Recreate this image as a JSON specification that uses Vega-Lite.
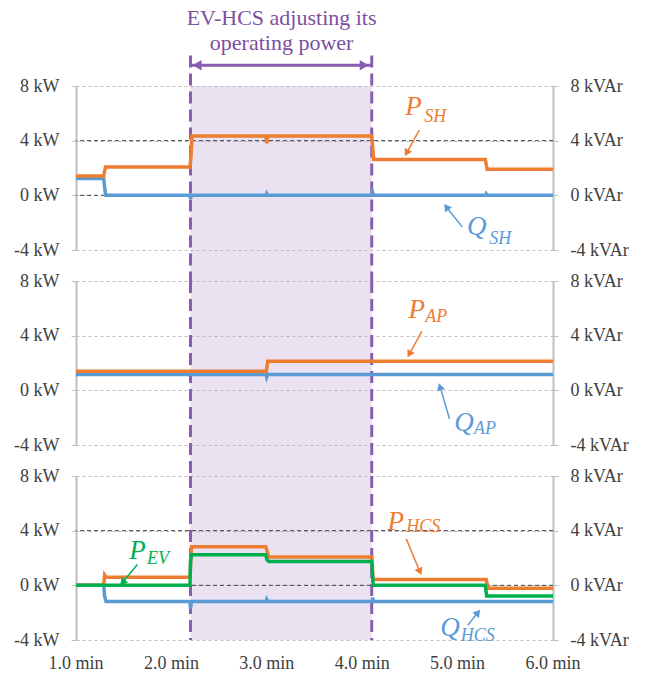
{
  "$schema": "https://vega.github.io/schema/vega-lite/v6.json",
  "padding": {"left": 13, "top": 7, "right": 5, "bottom": 5},
  "background": "white",
  "datasets": {
    "s": [
      {"p":"SH","k":"P","t":1.0,"v":1.41},{"p":"SH","k":"P","t":1.29,"v":1.41},{"p":"SH","k":"P","t":1.3,"v":1.8},{"p":"SH","k":"P","t":1.31,"v":2.07},{"p":"SH","k":"P","t":2.195,"v":2.07},{"p":"SH","k":"P","t":2.205,"v":2.8},{"p":"SH","k":"P","t":2.215,"v":4.35},{"p":"SH","k":"P","t":2.99,"v":4.35},{"p":"SH","k":"P","t":3.0,"v":3.8},{"p":"SH","k":"P","t":3.01,"v":4.35},{"p":"SH","k":"P","t":4.1,"v":4.35},{"p":"SH","k":"P","t":4.12,"v":2.63},{"p":"SH","k":"P","t":5.29,"v":2.63},{"p":"SH","k":"P","t":5.31,"v":1.9},{"p":"SH","k":"P","t":6.0,"v":1.9},
      {"p":"SH","k":"Q","t":1.0,"v":1.24},{"p":"SH","k":"Q","t":1.29,"v":1.24},{"p":"SH","k":"Q","t":1.3,"v":0.6},{"p":"SH","k":"Q","t":1.31,"v":0},{"p":"SH","k":"Q","t":2.195,"v":0},{"p":"SH","k":"Q","t":2.2,"v":-0.25},{"p":"SH","k":"Q","t":2.21,"v":0},{"p":"SH","k":"Q","t":2.995,"v":0},{"p":"SH","k":"Q","t":3.0,"v":0.12},{"p":"SH","k":"Q","t":3.01,"v":0},{"p":"SH","k":"Q","t":4.105,"v":0},{"p":"SH","k":"Q","t":4.11,"v":0.2},{"p":"SH","k":"Q","t":4.12,"v":0},{"p":"SH","k":"Q","t":5.295,"v":0},{"p":"SH","k":"Q","t":5.3,"v":0.1},{"p":"SH","k":"Q","t":5.31,"v":0},{"p":"SH","k":"Q","t":6.0,"v":0},
      {"p":"AP","k":"P","t":1.0,"v":1.4},{"p":"AP","k":"P","t":2.995,"v":1.4},{"p":"AP","k":"P","t":3.01,"v":2.13},{"p":"AP","k":"P","t":6.0,"v":2.13},
      {"p":"AP","k":"Q","t":1.0,"v":1.16},{"p":"AP","k":"Q","t":2.995,"v":1.16},{"p":"AP","k":"Q","t":3.0,"v":0.98},{"p":"AP","k":"Q","t":3.01,"v":1.16},{"p":"AP","k":"Q","t":6.0,"v":1.16},
      {"p":"HCS","k":"P","t":1.0,"v":0},{"p":"HCS","k":"P","t":1.29,"v":0},{"p":"HCS","k":"P","t":1.3,"v":0.75},{"p":"HCS","k":"P","t":1.315,"v":0.59},{"p":"HCS","k":"P","t":2.195,"v":0.59},{"p":"HCS","k":"P","t":2.21,"v":2.82},{"p":"HCS","k":"P","t":2.99,"v":2.82},{"p":"HCS","k":"P","t":3.02,"v":2.08},{"p":"HCS","k":"P","t":4.1,"v":2.08},{"p":"HCS","k":"P","t":4.115,"v":0.42},{"p":"HCS","k":"P","t":5.3,"v":0.42},{"p":"HCS","k":"P","t":5.32,"v":-0.22},{"p":"HCS","k":"P","t":6.0,"v":-0.22},
      {"p":"HCS","k":"Q","t":1.0,"v":0},{"p":"HCS","k":"Q","t":1.29,"v":0},{"p":"HCS","k":"Q","t":1.3,"v":-0.8},{"p":"HCS","k":"Q","t":1.315,"v":-1.19},{"p":"HCS","k":"Q","t":2.195,"v":-1.19},{"p":"HCS","k":"Q","t":2.2,"v":-1.7},{"p":"HCS","k":"Q","t":2.21,"v":-1.19},{"p":"HCS","k":"Q","t":2.995,"v":-1.19},{"p":"HCS","k":"Q","t":3.0,"v":-1.05},{"p":"HCS","k":"Q","t":3.01,"v":-1.19},{"p":"HCS","k":"Q","t":4.105,"v":-1.19},{"p":"HCS","k":"Q","t":4.11,"v":-0.9},{"p":"HCS","k":"Q","t":4.12,"v":-1.19},{"p":"HCS","k":"Q","t":6.0,"v":-1.19},
      {"p":"HCS","k":"EV","t":1.0,"v":0},{"p":"HCS","k":"EV","t":2.195,"v":0},{"p":"HCS","k":"EV","t":2.2,"v":1.7},{"p":"HCS","k":"EV","t":2.21,"v":2.23},{"p":"HCS","k":"EV","t":2.99,"v":2.23},{"p":"HCS","k":"EV","t":3.0,"v":1.9},{"p":"HCS","k":"EV","t":3.02,"v":1.74},{"p":"HCS","k":"EV","t":4.1,"v":1.74},{"p":"HCS","k":"EV","t":4.115,"v":0},{"p":"HCS","k":"EV","t":5.29,"v":0},{"p":"HCS","k":"EV","t":5.305,"v":-0.78},{"p":"HCS","k":"EV","t":6.0,"v":-0.78}
    ],
    "reg": [{"t":2.2,"t2":4.1}],
    "vl": [{"t":2.2},{"t":4.1}],
    "blk": [{"v":0},{"v":4}],
    "xl": [{"t":1,"lab":"1.0 min"},{"t":2,"lab":"2.0 min"},{"t":3,"lab":"3.0 min"},{"t":4,"lab":"4.0 min"},{"t":5,"lab":"5.0 min"},{"t":6,"lab":"6.0 min"}],
    "ann": [
      {"p":"SH","k":"P","lvl":"main","txt":"P","t":4.451,"v":5.85},{"p":"SH","k":"P","lvl":"sub","txt":"SH","t":4.65,"v":5.37},
      {"p":"SH","k":"Q","lvl":"main","txt":"Q","t":5.098,"v":-2.9},{"p":"SH","k":"Q","lvl":"sub","txt":"SH","t":5.332,"v":-3.55},
      {"p":"AP","k":"P","lvl":"main","txt":"P","t":4.486,"v":5.32},{"p":"AP","k":"P","lvl":"sub","txt":"AP","t":4.66,"v":5.03},
      {"p":"AP","k":"Q","lvl":"main","txt":"Q","t":4.965,"v":-2.96},{"p":"AP","k":"Q","lvl":"sub","txt":"AP","t":5.172,"v":-3.2},
      {"p":"HCS","k":"P","lvl":"main","txt":"P","t":4.266,"v":4.08},{"p":"HCS","k":"P","lvl":"sub","txt":"HCS","t":4.462,"v":3.91},
      {"p":"HCS","k":"Q","lvl":"main","txt":"Q","t":4.818,"v":-3.74},{"p":"HCS","k":"Q","lvl":"sub","txt":"HCS","t":5.032,"v":-4.1},
      {"p":"HCS","k":"EV","lvl":"main","txt":"P","t":1.559,"v":1.94},{"p":"HCS","k":"EV","lvl":"sub","txt":"EV","t":1.745,"v":1.59}
    ],
    "arr": [
      {"p":"SH","k":"P","t":4.598,"v":4.77,"t2":4.466,"v2":3.11,"ang":209},
      {"p":"SH","k":"Q","t":5.049,"v":-2.31,"t2":4.882,"v2":-0.85,"ang":322},
      {"p":"AP","k":"P","t":4.626,"v":4.34,"t2":4.494,"v2":2.65,"ang":209},
      {"p":"AP","k":"Q","t":4.916,"v":-2.1,"t2":4.815,"v2":0.27,"ang":344},
      {"p":"HCS","k":"P","t":4.462,"v":3.4,"t2":4.605,"v2":1.0,"ang":157},
      {"p":"HCS","k":"Q","t":5.105,"v":-2.93,"t2":5.213,"v2":-1.99,"ang":39},
      {"p":"HCS","k":"EV","t":1.643,"v":1.52,"t2":1.488,"v2":0.21,"ang":220}
    ],
    "top": [{"t":3.155,"v":12.43,"txt":"EV-HCS adjusting its"},{"t":3.155,"v":10.62,"txt":"operating power"}],
    "harr": [{"t":2.2,"t2":4.1,"v":9.51}],
    "heads": [{"t":2.269,"v":9.51,"dir":"left"},{"t":4.021,"v":9.51,"dir":"right"}]
  },
  "vconcat": [
    {
      "width": 477, "height": 164,
      "resolve": {"scale": {"y": "independent"}},
      "layer": [
        {"data":{"name":"reg"},"mark":{"type":"rect","fill":"#b89bcf","opacity":0.3},
         "encoding":{"x":{"field":"t","type":"quantitative","title":null,"scale":{"domain":[1,6],"nice":false,"zero":false},"axis":null},
          "x2":{"field":"t2"},
          "y":{"datum":8,"type":"quantitative","title":null,"scale":{"domain":[-4,8],"nice":false,"zero":false},"axis":{"orient":"left","values":[-4,0,4,8],"labelExpr":"datum.value + ' kW'","grid":true}},
          "y2":{"datum":-6.27}}},
        {"data":{"name":"blk"},"mark":{"type":"rule","color":"#404040","strokeDash":[4,3],"strokeWidth":1},
         "encoding":{"y":{"field":"v","type":"quantitative","scale":{"domain":[-4,8],"nice":false,"zero":false},"axis":null}}},
        {"data":{"name":"vl"},"mark":{"type":"rule","color":"#8a5db0","strokeDash":[12,6],"strokeWidth":3},
         "encoding":{"x":{"field":"t","type":"quantitative","title":null,"scale":{"domain":[1,6],"nice":false,"zero":false},"axis":null},
          "y":{"datum":10.24,"type":"quantitative","scale":{"domain":[-4,8],"nice":false,"zero":false},"axis":null},"y2":{"datum":-6.27}}},
        {"data":{"name":"s"},"transform":[{"filter":"datum.p=='SH' && datum.k=='Q'"}],"mark":{"type":"line","strokeWidth":3.5},
         "encoding":{"x":{"field":"t","type":"quantitative","title":null,"scale":{"domain":[1,6],"nice":false,"zero":false},"axis":{"values":[1,2,3,4,5,6],"grid":true,"labels":false}},
          "y":{"field":"v","type":"quantitative","title":null,"scale":{"domain":[-4,8],"nice":false,"zero":false},"axis":{"orient":"right","values":[-4,0,4,8],"labelExpr":"datum.value + ' kVAr'","grid":false}},
          "color":{"field":"k","type":"nominal","scale":{"domain":["P","Q","EV"],"range":["#ED7D31","#5B9BD5","#00B050"]},"legend":null}}},
        {"layer":[
          {"data":{"name":"s"},"transform":[{"filter":"datum.p=='SH' && datum.k!='Q'"}],"mark":{"type":"line","strokeWidth":3.5},
           "encoding":{"x":{"field":"t","type":"quantitative","title":null,"scale":{"domain":[1,6],"nice":false,"zero":false},"axis":null},
            "y":{"field":"v","type":"quantitative","title":null,"scale":{"domain":[-4,8],"nice":false,"zero":false},"axis":null},
            "color":{"field":"k","type":"nominal","scale":{"domain":["P","Q","EV"],"range":["#ED7D31","#5B9BD5","#00B050"]},"legend":null}}},
          {"data":{"name":"ann"},"transform":[{"filter":"datum.p=='SH' && datum.lvl=='main'"}],"mark":{"type":"text","font":"Liberation Serif","fontStyle":"italic","fontSize":27,"align":"left","baseline":"alphabetic"},
           "encoding":{"x":{"field":"t","type":"quantitative","title":null,"scale":{"domain":[1,6],"nice":false,"zero":false},"axis":null},
            "y":{"field":"v","type":"quantitative","title":null,"scale":{"domain":[-4,8],"nice":false,"zero":false},"axis":null},
            "text":{"field":"txt"},
            "color":{"field":"k","type":"nominal","scale":{"domain":["P","Q","EV"],"range":["#ED7D31","#5B9BD5","#00B050"]},"legend":null}}},
          {"data":{"name":"ann"},"transform":[{"filter":"datum.p=='SH' && datum.lvl=='sub'"}],"mark":{"type":"text","font":"Liberation Serif","fontStyle":"italic","fontSize":18,"align":"left","baseline":"alphabetic"},
           "encoding":{"x":{"field":"t","type":"quantitative","title":null,"scale":{"domain":[1,6],"nice":false,"zero":false},"axis":null},
            "y":{"field":"v","type":"quantitative","title":null,"scale":{"domain":[-4,8],"nice":false,"zero":false},"axis":null},
            "text":{"field":"txt"},
            "color":{"field":"k","type":"nominal","scale":{"domain":["P","Q","EV"],"range":["#ED7D31","#5B9BD5","#00B050"]},"legend":null}}},
          {"data":{"name":"arr"},"transform":[{"filter":"datum.p=='SH'"}],"mark":{"type":"rule","strokeWidth":1.5},
           "encoding":{"x":{"field":"t","type":"quantitative","title":null,"scale":{"domain":[1,6],"nice":false,"zero":false},"axis":null},
            "y":{"field":"v","type":"quantitative","title":null,"scale":{"domain":[-4,8],"nice":false,"zero":false},"axis":null},
            "x2":{"field":"t2"},"y2":{"field":"v2"},
            "color":{"field":"k","type":"nominal","scale":{"domain":["P","Q","EV"],"range":["#ED7D31","#5B9BD5","#00B050"]},"legend":null}}},
          {"data":{"name":"arr"},"transform":[{"filter":"datum.p=='SH'"}],"mark":{"type":"point","shape":"triangle-up","filled":true,"opacity":1,"size":70},
           "encoding":{"x":{"field":"t2","type":"quantitative","title":null,"scale":{"domain":[1,6],"nice":false,"zero":false},"axis":null},
            "y":{"field":"v2","type":"quantitative","title":null,"scale":{"domain":[-4,8],"nice":false,"zero":false},"axis":null},
            "angle":{"field":"ang","type":"quantitative","scale":null},
            "color":{"field":"k","type":"nominal","scale":{"domain":["P","Q","EV"],"range":["#ED7D31","#5B9BD5","#00B050"]},"legend":null}}},
          {"data":{"name":"top"},"mark":{"type":"text","font":"Liberation Serif","fontSize":22,"align":"center","baseline":"alphabetic","color":"#7d4f9f"},
           "encoding":{"x":{"field":"t","type":"quantitative","title":null,"scale":{"domain":[1,6],"nice":false,"zero":false},"axis":null},
            "y":{"field":"v","type":"quantitative","title":null,"scale":{"domain":[-4,8],"nice":false,"zero":false},"axis":null},
            "text":{"field":"txt"}}},
          {"data":{"name":"harr"},"mark":{"type":"rule","strokeWidth":3,"color":"#8a5db0"},
           "encoding":{"x":{"field":"t","type":"quantitative","title":null,"scale":{"domain":[1,6],"nice":false,"zero":false},"axis":null},
            "x2":{"field":"t2"},
            "y":{"field":"v","type":"quantitative","title":null,"scale":{"domain":[-4,8],"nice":false,"zero":false},"axis":null}}},
          {"data":{"name":"heads"},"mark":{"type":"point","filled":true,"opacity":1,"size":110,"color":"#8a5db0"},
           "encoding":{"x":{"field":"t","type":"quantitative","title":null,"scale":{"domain":[1,6],"nice":false,"zero":false},"axis":null},
            "y":{"field":"v","type":"quantitative","title":null,"scale":{"domain":[-4,8],"nice":false,"zero":false},"axis":null},
            "shape":{"field":"dir","type":"nominal","scale":{"domain":["left","right"],"range":["triangle-left","triangle-right"]},"legend":null}}}
        ]}
      ]
    },
    {
      "width": 477, "height": 164,
      "resolve": {"scale": {"y": "independent"}},
      "layer": [
        {"data":{"name":"reg"},"mark":{"type":"rect","fill":"#b89bcf","opacity":0.3},
         "encoding":{"x":{"field":"t","type":"quantitative","title":null,"scale":{"domain":[1,6],"nice":false,"zero":false},"axis":null},
          "x2":{"field":"t2"},
          "y":{"datum":8,"type":"quantitative","title":null,"scale":{"domain":[-4,8],"nice":false,"zero":false},"axis":{"orient":"left","values":[-4,0,4,8],"labelExpr":"datum.value + ' kW'","grid":true}},
          "y2":{"datum":-6.27}}},
        {"data":{"name":"vl"},"mark":{"type":"rule","color":"#8a5db0","strokeDash":[12,6],"strokeWidth":3},
         "encoding":{"x":{"field":"t","type":"quantitative","title":null,"scale":{"domain":[1,6],"nice":false,"zero":false},"axis":null},
          "y":{"datum":8,"type":"quantitative","scale":{"domain":[-4,8],"nice":false,"zero":false},"axis":null},"y2":{"datum":-6.27}}},
        {"data":{"name":"s"},"transform":[{"filter":"datum.p=='AP' && datum.k=='Q'"}],"mark":{"type":"line","strokeWidth":3.5},
         "encoding":{"x":{"field":"t","type":"quantitative","title":null,"scale":{"domain":[1,6],"nice":false,"zero":false},"axis":{"values":[1,2,3,4,5,6],"grid":true,"labels":false}},
          "y":{"field":"v","type":"quantitative","title":null,"scale":{"domain":[-4,8],"nice":false,"zero":false},"axis":{"orient":"right","values":[-4,0,4,8],"labelExpr":"datum.value + ' kVAr'","grid":false}},
          "color":{"field":"k","type":"nominal","scale":{"domain":["P","Q","EV"],"range":["#ED7D31","#5B9BD5","#00B050"]},"legend":null}}},
        {"layer":[
          {"data":{"name":"s"},"transform":[{"filter":"datum.p=='AP' && datum.k!='Q'"}],"mark":{"type":"line","strokeWidth":3.5},
           "encoding":{"x":{"field":"t","type":"quantitative","title":null,"scale":{"domain":[1,6],"nice":false,"zero":false},"axis":null},
            "y":{"field":"v","type":"quantitative","title":null,"scale":{"domain":[-4,8],"nice":false,"zero":false},"axis":null},
            "color":{"field":"k","type":"nominal","scale":{"domain":["P","Q","EV"],"range":["#ED7D31","#5B9BD5","#00B050"]},"legend":null}}},
          {"data":{"name":"ann"},"transform":[{"filter":"datum.p=='AP' && datum.lvl=='main'"}],"mark":{"type":"text","font":"Liberation Serif","fontStyle":"italic","fontSize":27,"align":"left","baseline":"alphabetic"},
           "encoding":{"x":{"field":"t","type":"quantitative","title":null,"scale":{"domain":[1,6],"nice":false,"zero":false},"axis":null},
            "y":{"field":"v","type":"quantitative","title":null,"scale":{"domain":[-4,8],"nice":false,"zero":false},"axis":null},
            "text":{"field":"txt"},
            "color":{"field":"k","type":"nominal","scale":{"domain":["P","Q","EV"],"range":["#ED7D31","#5B9BD5","#00B050"]},"legend":null}}},
          {"data":{"name":"ann"},"transform":[{"filter":"datum.p=='AP' && datum.lvl=='sub'"}],"mark":{"type":"text","font":"Liberation Serif","fontStyle":"italic","fontSize":18,"align":"left","baseline":"alphabetic"},
           "encoding":{"x":{"field":"t","type":"quantitative","title":null,"scale":{"domain":[1,6],"nice":false,"zero":false},"axis":null},
            "y":{"field":"v","type":"quantitative","title":null,"scale":{"domain":[-4,8],"nice":false,"zero":false},"axis":null},
            "text":{"field":"txt"},
            "color":{"field":"k","type":"nominal","scale":{"domain":["P","Q","EV"],"range":["#ED7D31","#5B9BD5","#00B050"]},"legend":null}}},
          {"data":{"name":"arr"},"transform":[{"filter":"datum.p=='AP'"}],"mark":{"type":"rule","strokeWidth":1.5},
           "encoding":{"x":{"field":"t","type":"quantitative","title":null,"scale":{"domain":[1,6],"nice":false,"zero":false},"axis":null},
            "y":{"field":"v","type":"quantitative","title":null,"scale":{"domain":[-4,8],"nice":false,"zero":false},"axis":null},
            "x2":{"field":"t2"},"y2":{"field":"v2"},
            "color":{"field":"k","type":"nominal","scale":{"domain":["P","Q","EV"],"range":["#ED7D31","#5B9BD5","#00B050"]},"legend":null}}},
          {"data":{"name":"arr"},"transform":[{"filter":"datum.p=='AP'"}],"mark":{"type":"point","shape":"triangle-up","filled":true,"opacity":1,"size":70},
           "encoding":{"x":{"field":"t2","type":"quantitative","title":null,"scale":{"domain":[1,6],"nice":false,"zero":false},"axis":null},
            "y":{"field":"v2","type":"quantitative","title":null,"scale":{"domain":[-4,8],"nice":false,"zero":false},"axis":null},
            "angle":{"field":"ang","type":"quantitative","scale":null},
            "color":{"field":"k","type":"nominal","scale":{"domain":["P","Q","EV"],"range":["#ED7D31","#5B9BD5","#00B050"]},"legend":null}}}
        ]}
      ]
    },
    {
      "width": 477, "height": 164,
      "resolve": {"scale": {"y": "independent"}},
      "layer": [
        {"data":{"name":"reg"},"mark":{"type":"rect","fill":"#b89bcf","opacity":0.3},
         "encoding":{"x":{"field":"t","type":"quantitative","title":null,"scale":{"domain":[1,6],"nice":false,"zero":false},"axis":null},
          "x2":{"field":"t2"},
          "y":{"datum":8,"type":"quantitative","title":null,"scale":{"domain":[-4,8],"nice":false,"zero":false},"axis":{"orient":"left","values":[-4,0,4,8],"labelExpr":"datum.value + ' kW'","grid":true}},
          "y2":{"datum":-4}}},
        {"data":{"name":"blk"},"mark":{"type":"rule","color":"#404040","strokeDash":[4,3],"strokeWidth":1},
         "encoding":{"y":{"field":"v","type":"quantitative","scale":{"domain":[-4,8],"nice":false,"zero":false},"axis":null}}},
        {"data":{"name":"vl"},"mark":{"type":"rule","color":"#8a5db0","strokeDash":[12,6],"strokeWidth":3},
         "encoding":{"x":{"field":"t","type":"quantitative","title":null,"scale":{"domain":[1,6],"nice":false,"zero":false},"axis":null},
          "y":{"datum":8,"type":"quantitative","scale":{"domain":[-4,8],"nice":false,"zero":false},"axis":null},"y2":{"datum":-4}}},
        {"data":{"name":"s"},"transform":[{"filter":"datum.p=='HCS' && datum.k=='Q'"}],"mark":{"type":"line","strokeWidth":3.5},
         "encoding":{"x":{"field":"t","type":"quantitative","title":null,"scale":{"domain":[1,6],"nice":false,"zero":false},"axis":{"values":[1,2,3,4,5,6],"grid":true,"labels":false}},
          "y":{"field":"v","type":"quantitative","title":null,"scale":{"domain":[-4,8],"nice":false,"zero":false},"axis":{"orient":"right","values":[-4,0,4,8],"labelExpr":"datum.value + ' kVAr'","grid":false}},
          "color":{"field":"k","type":"nominal","scale":{"domain":["P","Q","EV"],"range":["#ED7D31","#5B9BD5","#00B050"]},"legend":null}}},
        {"layer":[
          {"data":{"name":"s"},"transform":[{"filter":"datum.p=='HCS' && datum.k!='Q'"}],"mark":{"type":"line","strokeWidth":3.5},
           "encoding":{"x":{"field":"t","type":"quantitative","title":null,"scale":{"domain":[1,6],"nice":false,"zero":false},"axis":null},
            "y":{"field":"v","type":"quantitative","title":null,"scale":{"domain":[-4,8],"nice":false,"zero":false},"axis":null},
            "color":{"field":"k","type":"nominal","scale":{"domain":["P","Q","EV"],"range":["#ED7D31","#5B9BD5","#00B050"]},"legend":null}}},
          {"data":{"name":"xl"},"mark":{"type":"text","font":"Liberation Serif","fontSize":18,"align":"center","baseline":"top","dy":15,"color":"#404040"},
           "encoding":{"x":{"field":"t","type":"quantitative","title":null,"scale":{"domain":[1,6],"nice":false,"zero":false},"axis":null},
            "y":{"datum":-4,"type":"quantitative","scale":{"domain":[-4,8],"nice":false,"zero":false},"axis":null},
            "text":{"field":"lab"}}},
          {"data":{"name":"ann"},"transform":[{"filter":"datum.p=='HCS' && datum.lvl=='main'"}],"mark":{"type":"text","font":"Liberation Serif","fontStyle":"italic","fontSize":27,"align":"left","baseline":"alphabetic"},
           "encoding":{"x":{"field":"t","type":"quantitative","title":null,"scale":{"domain":[1,6],"nice":false,"zero":false},"axis":null},
            "y":{"field":"v","type":"quantitative","title":null,"scale":{"domain":[-4,8],"nice":false,"zero":false},"axis":null},
            "text":{"field":"txt"},
            "color":{"field":"k","type":"nominal","scale":{"domain":["P","Q","EV"],"range":["#ED7D31","#5B9BD5","#00B050"]},"legend":null}}},
          {"data":{"name":"ann"},"transform":[{"filter":"datum.p=='HCS' && datum.lvl=='sub'"}],"mark":{"type":"text","font":"Liberation Serif","fontStyle":"italic","fontSize":18,"align":"left","baseline":"alphabetic"},
           "encoding":{"x":{"field":"t","type":"quantitative","title":null,"scale":{"domain":[1,6],"nice":false,"zero":false},"axis":null},
            "y":{"field":"v","type":"quantitative","title":null,"scale":{"domain":[-4,8],"nice":false,"zero":false},"axis":null},
            "text":{"field":"txt"},
            "color":{"field":"k","type":"nominal","scale":{"domain":["P","Q","EV"],"range":["#ED7D31","#5B9BD5","#00B050"]},"legend":null}}},
          {"data":{"name":"arr"},"transform":[{"filter":"datum.p=='HCS'"}],"mark":{"type":"rule","strokeWidth":1.5},
           "encoding":{"x":{"field":"t","type":"quantitative","title":null,"scale":{"domain":[1,6],"nice":false,"zero":false},"axis":null},
            "y":{"field":"v","type":"quantitative","title":null,"scale":{"domain":[-4,8],"nice":false,"zero":false},"axis":null},
            "x2":{"field":"t2"},"y2":{"field":"v2"},
            "color":{"field":"k","type":"nominal","scale":{"domain":["P","Q","EV"],"range":["#ED7D31","#5B9BD5","#00B050"]},"legend":null}}},
          {"data":{"name":"arr"},"transform":[{"filter":"datum.p=='HCS'"}],"mark":{"type":"point","shape":"triangle-up","filled":true,"opacity":1,"size":70},
           "encoding":{"x":{"field":"t2","type":"quantitative","title":null,"scale":{"domain":[1,6],"nice":false,"zero":false},"axis":null},
            "y":{"field":"v2","type":"quantitative","title":null,"scale":{"domain":[-4,8],"nice":false,"zero":false},"axis":null},
            "angle":{"field":"ang","type":"quantitative","scale":null},
            "color":{"field":"k","type":"nominal","scale":{"domain":["P","Q","EV"],"range":["#ED7D31","#5B9BD5","#00B050"]},"legend":null}}}
        ]}
      ]
    }
  ],
  "spacing": 31,
  "bounds": "flush",
  "config": {
    "view": {"stroke": null},
    "axis": {"labelFont": "Liberation Serif", "labelFontSize": 18, "labelColor": "#404040", "domainColor": "#bfbfbf", "domainWidth": 2, "tickColor": "#bfbfbf", "tickSize": 5, "tickWidth": 1, "gridColor": "#c0c0c0", "gridDash": [3, 3], "gridWidth": 1},
    "axisX": {"labelPadding": 9},
    "axisY": {"labelPadding": 12}
  }
}
